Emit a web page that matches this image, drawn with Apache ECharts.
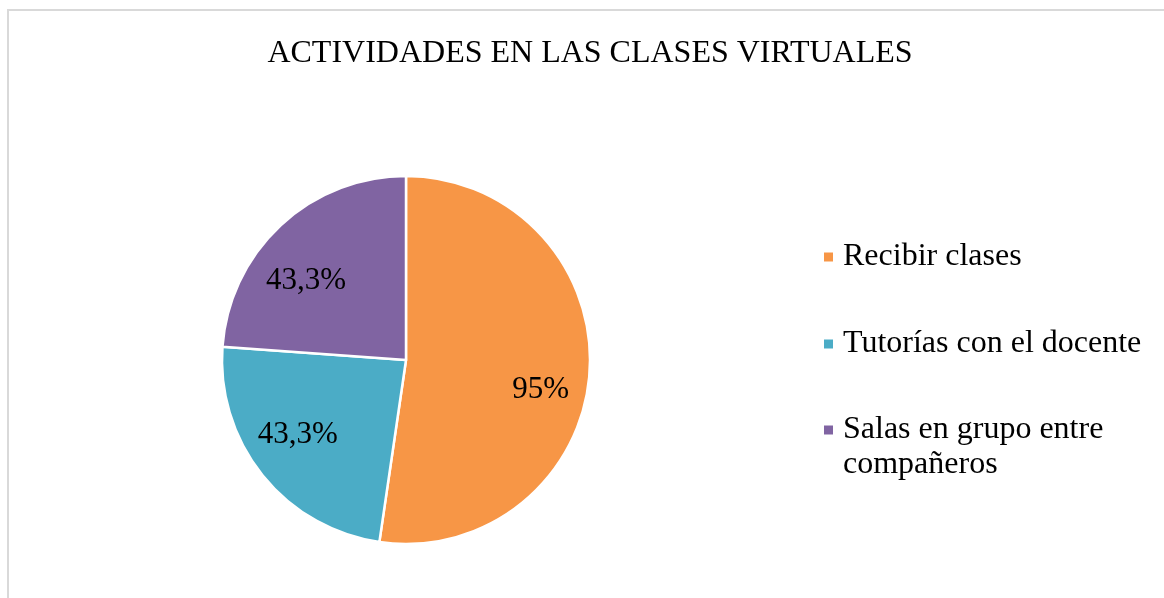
<!DOCTYPE html>
<html>
<head>
<meta charset="utf-8">
<script src="https://cdn.jsdelivr.net/npm/echarts@6/dist/echarts.min.js"></script>
<style>
  html, body { margin: 0; padding: 0; background: #fff; }
  #chart { width: 1164px; height: 598px; }
</style>
</head>
<body>
<div id="chart"></div>
<script>
// datos del gráfico
const categorias = ["Recibir clases", "Tutorías con el docente", "Salas en grupo entre compañeros"];
const valores = [95, 43.3, 43.3];
const colores = ["#F79646", "#4BACC6", "#8064A2"];

const fuente = "'Liberation Serif', 'Times New Roman', serif";
// ajuste fino de las etiquetas (como en Excel)
const desplazamientos = [[0, 20], [-3, -10], [-8, 20]];
// una leyenda por elemento para controlar la posición de cada uno
const leyendaTop = [239.5, 326.5, 377.5];

const datos = categorias.map((c, i) => ({ name: c, value: valores[i], itemStyle: { color: colores[i] } }));

const estiloTexto = {
  fontFamily: fuente,
  fontSize: 32,
  lineHeight: 35,
  color: "#000",
  padding: [0, 0, 0, 4],
};

const leyendas = categorias.map((c, i) => ({
  orient: "vertical",
  left: 822,
  top: leyendaTop[i],
  padding: 0,
  icon: "rect",
  itemWidth: 11,
  itemHeight: 11,
  selectedMode: false,
  // línea vacía delante para que el icono quede junto a la primera línea
  formatter: (name) => name === "Salas en grupo entre compañeros"
    ? "{t| }\n{t|Salas en grupo entre}\n{t|compañeros}"
    : "{t|" + name + "}",
  textStyle: {
    fontFamily: fuente,
    fontSize: 32,
    lineHeight: 35,
    color: "#000",
    rich: { t: estiloTexto },
  },
  data: [c],
}));

const chart = echarts.init(document.getElementById("chart"));
chart.setOption({
  animation: false,
  title: {
    text: "ACTIVIDADES EN LAS CLASES VIRTUALES",
    left: 585,
    top: 33,
    textAlign: "center",
    textStyle: { fontFamily: fuente, fontSize: 32, fontWeight: "normal", color: "#000" },
  },
  graphic: [
    {
      type: "rect",
      silent: true,
      shape: { x: 8, y: 10, width: 1400, height: 800 },
      style: { fill: "none", stroke: "#d9d9d9", lineWidth: 2 },
    },
  ],
  legend: leyendas,
  series: [
    {
      type: "pie",
      center: [406, 360],
      radius: 184,
      startAngle: 90,
      clockwise: true,
      silent: true,
      label: { show: false },
      labelLine: { show: false },
      itemStyle: { borderColor: "#fff", borderWidth: 2.5 },
      data: datos,
    },
    {
      // serie transparente sólo para colocar las etiquetas
      type: "pie",
      center: [406, 360],
      radius: [80, 184],
      startAngle: 90,
      clockwise: true,
      silent: true,
      legendHoverLink: false,
      itemStyle: { color: "transparent" },
      label: {
        show: true,
        position: "inside",
        fontFamily: fuente,
        fontSize: 31,
        color: "#000",
        formatter: (p) => String(p.value).replace(".", ",") + "%",
      },
      data: categorias.map((c, i) => ({
        name: c + " ",
        value: valores[i],
        label: { offset: desplazamientos[i] },
      })),
    },
  ],
});
</script>
</body>
</html>
